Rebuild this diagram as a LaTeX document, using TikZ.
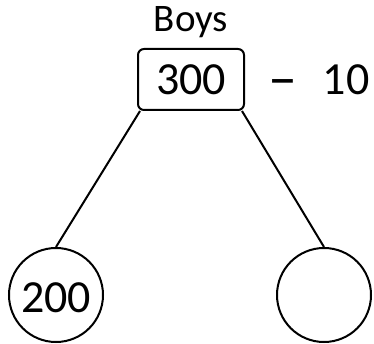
\documentclass[tikz,border=0pt]{standalone}
\usepackage{fontspec}
\setmainfont{Carlito}
\begin{document}
\begin{tikzpicture}[x=1pt,y=1pt,
  lbl/.style={inner sep=0pt,anchor=base,font=\fontsize{46}{50}\selectfont},
  numbox/.style={draw,line width=2pt,rounded corners=6pt,minimum width=106pt,minimum height=61pt,inner sep=0pt},
  partcircle/.style={draw,circle,line width=2pt,minimum size=94pt,inner sep=0pt},
  link/.style={line width=2pt}]
\useasboundingbox (0,0) rectangle (374,343);
\node[numbox] (box) at (191,263.5) {};
\node[lbl] (t300) at (191,248) {300};
\node[lbl,font=\fontsize{39}{44}\selectfont] (boys) at (191,311) {Boys};
\node[lbl,font=\fontsize{58}{60}\selectfont] (dash) at (283,245) {–};
\node[lbl] (ten) at (346,248) {10};
\node[partcircle] (L) at (56,48) {};
\node[lbl] (t200) at (56,31) {200};
\node[partcircle] (R) at (324,48) {};
\draw[link] ([xshift=3pt]box.south west) -- (L.north);
\draw[link] ([xshift=-3pt]box.south east) -- (R.north);
\end{tikzpicture}
\end{document}
